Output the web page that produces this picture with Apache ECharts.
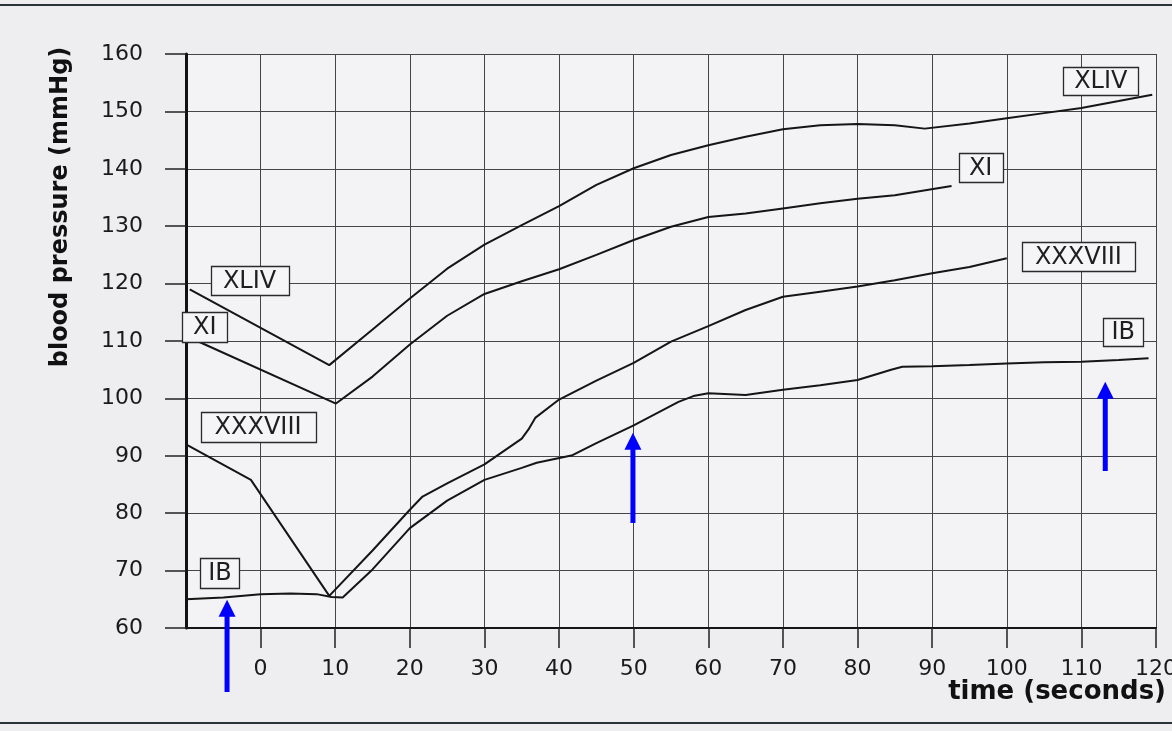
<!DOCTYPE html>
<html>
<head>
<meta charset="utf-8">
<script src="https://cdn.jsdelivr.net/npm/echarts@6/dist/echarts.min.js"></script>
<style>
html,body{margin:0;padding:0;background:#eeeef1;}
#c{width:1172px;height:731px;}
</style>
</head>
<body>
<div id="c"></div>
<script>
// ---- tick labels ----
const xTicks = [0, 10, 20, 30, 40, 50, 60, 70, 80, 90, 100, 110, 120];
const yTicks = [60, 70, 80, 90, 100, 110, 120, 130, 140, 150, 160];

// ---- series (time in seconds, blood pressure in mmHg) ----
const seriesNames = ['XLIV', 'XI', 'XXXVIII', 'IB'];

const xlivTime  = [-9.5, 9.2, 15, 20, 25, 30, 35, 40, 45, 50, 55, 60, 65, 70, 75, 80, 85, 89, 95, 100, 105, 110, 115, 119.5];
const xlivValue = [119, 105.8, 112, 117.4, 122.6, 126.8, 130.2, 133.5, 137.2, 140.1, 142.4, 144.1, 145.6, 146.9, 147.6, 147.8, 147.6, 147.0, 147.9, 148.8, 149.7, 150.6, 151.8, 152.9];

const xiTime  = [-8.5, 10.1, 15, 20, 25, 30, 35, 40, 45, 50, 55, 60, 65, 70, 75, 80, 85, 92.6];
const xiValue = [110, 99.1, 103.8, 109.4, 114.4, 118.2, 120.4, 122.5, 125, 127.6, 129.9, 131.6, 132.2, 133.1, 134, 134.8, 135.4, 137];

const xxxviiiTime  = [-10, -1.3, 9.2, 15, 20, 21.7, 25, 30, 35, 35.9, 36.8, 40, 45, 50, 55, 60, 65, 70, 75, 80, 85, 90, 95, 100];
const xxxviiiValue = [92, 85.8, 65.6, 73.5, 80.6, 82.9, 85.2, 88.5, 93.0, 94.6, 96.6, 99.8, 103.1, 106.2, 109.9, 112.6, 115.4, 117.7, 118.6, 119.5, 120.6, 121.8, 122.9, 124.4];

const ibTime  = [-10, -5, 0, 4, 7.5, 9.5, 11, 15, 20, 25, 30, 35, 37, 41.8, 45, 50, 56, 58, 60, 65, 70, 75, 80, 84.5, 86, 90, 95, 100, 105, 110, 115, 119];
const ibValue = [65, 65.3, 65.9, 66, 65.9, 65.4, 65.3, 70.2, 77.4, 82.2, 85.8, 87.9, 88.8, 90.1, 92.2, 95.3, 99.4, 100.4, 100.9, 100.6, 101.5, 102.3, 103.2, 105, 105.5, 105.6, 105.8, 106.1, 106.3, 106.4, 106.7, 107];

// ---- blue arrows (time, from-value, to-value) ----
const arrowTime   = [-4.5, 49.9, 113.2];
const arrowBottom = [48.85, 78.3, 87.35];
const arrowTip    = [64.9, 94.0, 102.9];

// ---- label box layout (annotation anchors in data space) ----
const boxLayout = {
  'XLIV':    [{at: [-1.48, 120.5], size: [78, 29]}, {at: [112.6, 155.3], size: [75, 28]}],
  'XI':      [{at: [-7.47, 112.4], size: [45, 30]}, {at: [96.5, 140.2], size: [44, 29]}],
  'XXXVIII': [{at: [-0.34, 95.0],  size: [115, 30]}, {at: [109.6, 124.7], size: [113, 29]}],
  'IB':      [{at: [-5.45, 69.6],  size: [39, 30]}, {at: [115.6, 111.6], size: [40, 28]}]
};

const times  = [xlivTime, xiTime, xxxviiiTime, ibTime];
const values = [xlivValue, xiValue, xxxviiiValue, ibValue];

const FONT = 'DejaVu Sans';
const chart = echarts.init(document.getElementById('c'), null, {renderer: 'canvas'});

const series = seriesNames.map((name, k) => ({
  type: 'line',
  name: name,
  data: times[k].map((t, i) => [t, values[k][i]]),
  symbol: 'none',
  showSymbol: false,
  clip: false,
  silent: true,
  z: 3,
  lineStyle: {color: '#151515', width: 2}
}));

chart.setOption({
  animation: false,
  backgroundColor: '#eeeef1',
  grid: {left: 186, right: 16, top: 54, bottom: 103, show: true, backgroundColor: '#f3f3f5', borderWidth: 0, outerBoundsMode: 'none', containLabel: false},
  xAxis: {
    type: 'value', min: -10, max: 120, interval: 5,
    axisLine: {show: true, onZero: false, lineStyle: {color: '#151515', width: 2}},
    axisTick: {show: true, customValues: xTicks, length: 20, lineStyle: {color: '#222', width: 1.5}},
    axisLabel: {customValues: xTicks, margin: 30, fontSize: 22, color: '#1a1a1a', fontFamily: FONT},
    splitLine: {show: true, lineStyle: {color: '#454545', width: 1}}
  },
  yAxis: {
    type: 'value', min: 60, max: 160, interval: 5,
    axisLine: {show: true, onZero: false, lineStyle: {color: '#111', width: 3}},
    axisTick: {show: true, customValues: yTicks, length: 21, lineStyle: {color: '#222', width: 1.5}},
    axisLabel: {customValues: yTicks, margin: 43, fontSize: 22, color: '#1a1a1a', fontFamily: FONT},
    splitLine: {show: true, lineStyle: {color: '#454545', width: 1}}
  },
  series: series
});

const g = [];
// label boxes
seriesNames.forEach(name => {
  boxLayout[name].forEach(b => {
    const p = chart.convertToPixel({gridIndex: 0}, b.at);
    const w = b.size[0], h = b.size[1];
    g.push({type: 'rect', z: 90, silent: true,
      shape: {x: Math.round(p[0] - w / 2) + 0.5, y: Math.round(p[1] - h / 2) + 0.5, width: w, height: h},
      style: {fill: '#f5f5f7', stroke: '#2a2a2a', lineWidth: 1.3}});
    g.push({type: 'text', z: 91, silent: true, x: p[0], y: p[1] + 1,
      style: {text: name, fill: '#1e1e1e', font: '24px "DejaVu Sans"', align: 'center', verticalAlign: 'middle'}});
  });
});
// arrows
arrowTime.forEach((t, i) => {
  const pb = chart.convertToPixel({gridIndex: 0}, [t, arrowBottom[i]]);
  const pt = chart.convertToPixel({gridIndex: 0}, [t, arrowTip[i]]);
  g.push({type: 'line', z: 100, silent: true,
    shape: {x1: pb[0], y1: pb[1], x2: pt[0], y2: pt[1] + 14},
    style: {stroke: '#0000ff', lineWidth: 5}});
  g.push({type: 'polygon', z: 100, silent: true,
    shape: {points: [[pt[0], pt[1]], [pt[0] - 8.5, pt[1] + 17], [pt[0] + 8.5, pt[1] + 17]]},
    style: {fill: '#0000ff'}});
});
// axis titles
g.push({type: 'text', z: 100, silent: true, x: 61, y: 207, rotation: Math.PI / 2,
  style: {text: 'blood pressure (mmHg)', fill: '#111', font: 'bold 24px "DejaVu Sans"', align: 'center', verticalAlign: 'middle'}});
g.push({type: 'text', z: 100, silent: true, x: 1166, y: 692,
  style: {text: 'time (seconds)', fill: '#111', font: 'bold 26px "DejaVu Sans"', align: 'right', verticalAlign: 'middle'}});
// page rules
g.push({type: 'line', z: 100, silent: true, shape: {x1: 0, y1: 5, x2: 1172, y2: 5}, style: {stroke: '#2b3238', lineWidth: 2}});
g.push({type: 'line', z: 100, silent: true, shape: {x1: 0, y1: 723, x2: 1172, y2: 723}, style: {stroke: '#2b3238', lineWidth: 2}});
chart.setOption({graphic: g});
</script>
</body>
</html>
